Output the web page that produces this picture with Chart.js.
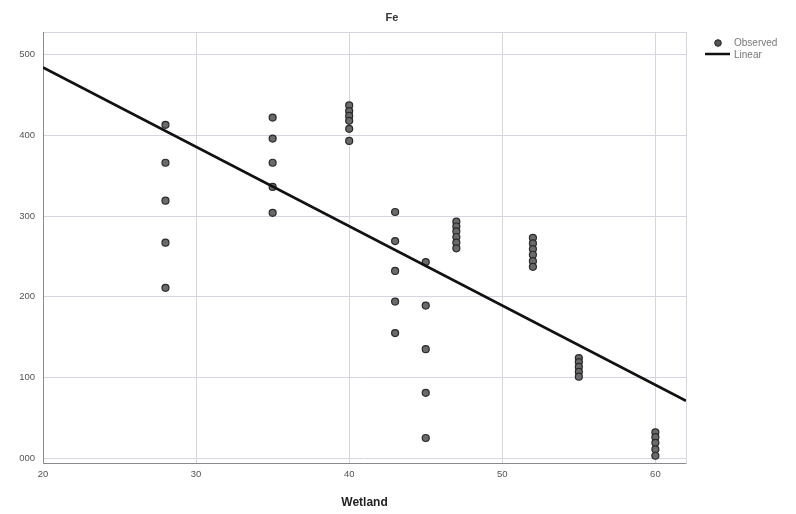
<!DOCTYPE html>
<html>
<head>
<meta charset="utf-8">
<script src="https://cdn.jsdelivr.net/npm/chart.js@4.4.1/dist/chart.umd.min.js"></script>
<style>
  html, body { margin: 0; padding: 0; background: #fff; }
  #wrap { width: 796px; height: 514px; }
</style>
</head>
<body>
<div id="wrap"><canvas id="c" width="796" height="514"></canvas></div>
<script>
// Wetland groups and the Fe readings observed at each one
const wetland = [28, 35, 40, 43, 45, 47, 52, 55, 60];
const fe28 = [413, 366, 319, 267, 211];
const fe35 = [422, 396, 366, 336, 304];
const fe40 = [437, 430, 424, 418, 408, 393];
const fe43 = [305, 269, 232, 194, 155];
const fe45 = [243, 189, 135, 81, 25];
const fe47 = [293, 287, 281, 274, 267, 260];
const fe52 = [273, 266, 259, 252, 244, 237];
const fe55 = [124, 119, 113, 107, 101];
const fe60 = [32, 26, 19, 11, 3];
const feByGroup = [fe28, fe35, fe40, fe43, fe45, fe47, fe52, fe55, fe60];

// Linear fit: Fe = intercept + slope * Wetland
const fitIntercept = 680.6;
const fitSlope = -9.83;
const fitRange = [20, 62];

const yTicks = [0, 100, 200, 300, 400, 500];
const yTickLabels = ['000', '100', '200', '300', '400', '500'];
const xTicks = [20, 30, 40, 50, 60];

const observed = [];
wetland.forEach((w, i) => feByGroup[i].forEach(v => observed.push({ x: w, y: v })));
const fitted = fitRange.map(x => ({ x: x, y: fitIntercept + fitSlope * x }));

const FONT = "'Liberation Sans', Arial, sans-serif";

const extras = {
  id: 'extras',
  beforeDatasetsDraw(chart) {
    const { ctx, chartArea: a } = chart;
    ctx.save();
    ctx.strokeStyle = '#d6d6e2';
    ctx.lineWidth = 1;
    ctx.strokeRect(a.left + 0.5, a.top + 0.5, a.right - a.left, a.bottom - a.top);
    ctx.strokeStyle = '#8a8a8a';
    ctx.beginPath();
    ctx.moveTo(a.left + 0.5, a.top);
    ctx.lineTo(a.left + 0.5, a.bottom + 0.5);
    ctx.lineTo(a.right, a.bottom + 0.5);
    ctx.stroke();
    ctx.restore();
  },
  afterDraw(chart) {
    const { ctx } = chart;
    ctx.save();
    // title
    ctx.fillStyle = '#333';
    ctx.font = "bold 11px " + FONT;
    ctx.textAlign = 'center';
    ctx.textBaseline = 'middle';
    ctx.fillText('Fe', 392, 18);
    // legend
    ctx.font = "10px " + FONT;
    ctx.textAlign = 'left';
    ctx.beginPath();
    ctx.arc(718, 43, 3.3, 0, Math.PI * 2);
    ctx.fillStyle = '#555';
    ctx.fill();
    ctx.strokeStyle = '#222';
    ctx.lineWidth = 1;
    ctx.stroke();
    ctx.fillStyle = '#777';
    ctx.fillText('Observed', 734, 43);
    ctx.beginPath();
    ctx.moveTo(705, 54);
    ctx.lineTo(730, 54);
    ctx.strokeStyle = '#111';
    ctx.lineWidth = 2.5;
    ctx.stroke();
    ctx.fillText('Linear', 734, 55);
    ctx.restore();
  }
};

new Chart(document.getElementById('c'), {
  data: {
    datasets: [
      {
        type: 'scatter',
        label: 'Observed',
        data: observed,
        pointRadius: 3.5,
        pointBackgroundColor: '#6a6a6a',
        pointBorderColor: '#2a2a2a',
        pointBorderWidth: 1.2,
        order: 2
      },
      {
        type: 'line',
        label: 'Linear',
        data: fitted,
        borderColor: '#111',
        borderWidth: 2.6,
        pointRadius: 0,
        fill: false,
        order: 1
      }
    ]
  },
  options: {
    responsive: false,
    animation: false,
    layout: { padding: { left: 0, right: 110, top: 32, bottom: 0 } },
    plugins: { legend: { display: false }, title: { display: false }, tooltip: { enabled: false } },
    scales: {
      x: {
        type: 'linear',
        min: 20,
        max: 62,
        afterBuildTicks: s => { s.ticks = xTicks.map(v => ({ value: v })); },
        afterFit: s => { s.height = 51; },
        grid: { color: '#d6d6e2', drawTicks: false },
        border: { display: false },
        ticks: { color: '#555', font: { family: FONT, size: 9.5 }, padding: 6, maxRotation: 0 },
        title: { display: true, text: 'Wetland', color: '#222', font: { family: FONT, size: 12, weight: 'bold' }, padding: { top: 14 } }
      },
      y: {
        type: 'linear',
        min: -6,
        max: 528,
        afterBuildTicks: s => { s.ticks = yTicks.map(v => ({ value: v })); },
        afterFit: s => { s.width = 43; },
        grid: { color: '#d6d6e2', drawTicks: false },
        border: { display: false },
        ticks: {
          color: '#555',
          font: { family: FONT, size: 9.5 },
          padding: 8,
          callback: v => yTickLabels[yTicks.indexOf(v)]
        }
      }
    }
  },
  plugins: [extras]
});
</script>
</body>
</html>
